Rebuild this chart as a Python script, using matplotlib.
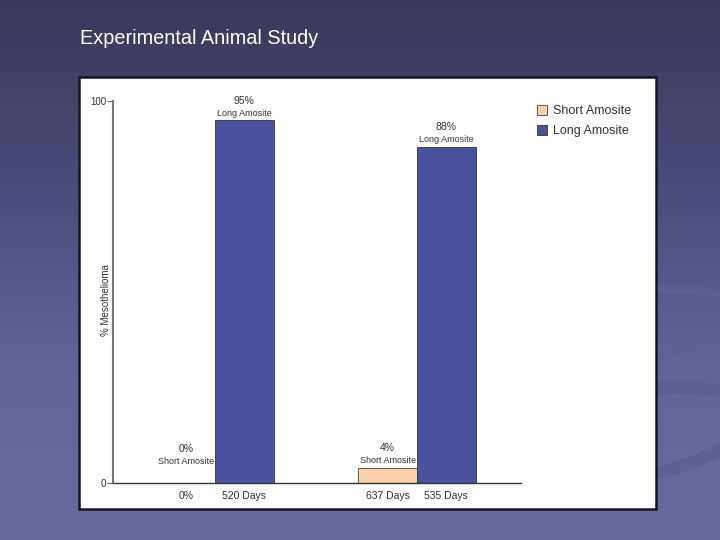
import matplotlib
matplotlib.use("Agg")
import matplotlib.pyplot as plt
import numpy as np
from matplotlib.patches import Rectangle, Ellipse
from matplotlib.colors import LinearSegmentedColormap

plt.rcParams['font.family'] = ['Liberation Sans', 'DejaVu Sans']

title = "Experimental Animal Study"
series = ["Short Amosite", "Long Amosite"]
short_vals = [0, 4]
long_vals = [95, 88]
short_ticks = ["0%", "637 Days"]
long_ticks = ["520 Days", "535 Days"]
ylabel = "% Mesothelioma"

col_short = "#fcd0a8"
col_long = "#4a519e"
txt = "#333333"

fig = plt.figure(figsize=(7.2, 5.4), dpi=100)

# slide background
bg = fig.add_axes([0, 0, 1, 1])
cmap = LinearSegmentedColormap.from_list("bg", ["#3a3957", "#4b4b7a", "#62629a", "#6a6a9e"])
grad = np.linspace(0, 1, 256).reshape(-1, 1)
bg.imshow(grad, aspect="auto", cmap=cmap, extent=[0, 720, 540, 0])
bg.add_patch(Ellipse((600, 330), 300, 70, angle=-8, fill=False, lw=6, ec="#5f5f92", alpha=0.7))
bg.add_patch(Ellipse((600, 440), 320, 90, angle=-10, fill=False, lw=9, ec="#5d5d90", alpha=0.7))
bg.set_xlim(0, 720)
bg.set_ylim(540, 0)
bg.axis("off")
bg.add_patch(Rectangle((79, 77), 577, 432, fc="white", ec="#15152a", lw=1.8))
bg.text(80, 38, title, color="white", fontsize=14.3, va="center", ha="left")

ax = fig.add_axes([113 / 720, 57 / 540, 408 / 720, 382 / 540])
ax.set_facecolor("none")
x = np.arange(2)
w = 0.29
b1 = ax.bar(x - w / 2, short_vals, w, color=col_short, ec="#444444", lw=0.6, label=series[0])
b2 = ax.bar(x + w / 2, long_vals, w, color=col_long, ec="#333333", lw=0.6, label=series[1])

for bars, vals, name in [(b1, short_vals, series[0]), (b2, long_vals, series[1])]:
    for r, v in zip(bars, vals):
        cx = r.get_x() + r.get_width() / 2
        yy = max(v, 3.7)
        ax.annotate("%d%%" % v, (cx, yy), xytext=(0, 14), textcoords="offset points",
                    ha="center", va="center", fontsize=7.5, color=txt)
        ax.annotate(name, (cx, yy), xytext=(0, 5), textcoords="offset points",
                    ha="center", va="center", fontsize=6.5, color=txt)

ax.set_xlim(-0.505, 1.515)
ax.set_ylim(0, 100)
ax.set_yticks([0, 100])
ax.set_yticklabels(["0", "100"], fontsize=7, color=txt)
ax.set_xticks(list(x - w / 2) + list(x + w / 2))
ax.set_xticklabels(short_ticks + long_ticks, fontsize=7.5, color=txt)
ax.tick_params(axis="x", length=0, pad=6)
ax.tick_params(axis="y", length=4, width=0.8, color="#666666", pad=1)
for s in ["top", "right"]:
    ax.spines[s].set_visible(False)
ax.spines["left"].set_color("#777777")
ax.spines["left"].set_linewidth(1.5)
ax.spines["bottom"].set_color("#333333")
ax.spines["bottom"].set_linewidth(1.0)
ax.set_ylabel(ylabel, fontsize=7, color=txt)
ax.yaxis.set_label_coords(-0.005, 0.479)

leg = fig.legend(handles=[b1, b2], labels=series, loc="upper left",
                 bbox_to_anchor=(532 / 720, 1 - 100 / 540), frameon=False,
                 fontsize=9, handlelength=0.8, handleheight=0.8, handletextpad=0.45,
                 labelspacing=0.65, borderaxespad=0)
for t in leg.get_texts():
    t.set_color(txt)

fig.savefig("out.png", dpi=100)
